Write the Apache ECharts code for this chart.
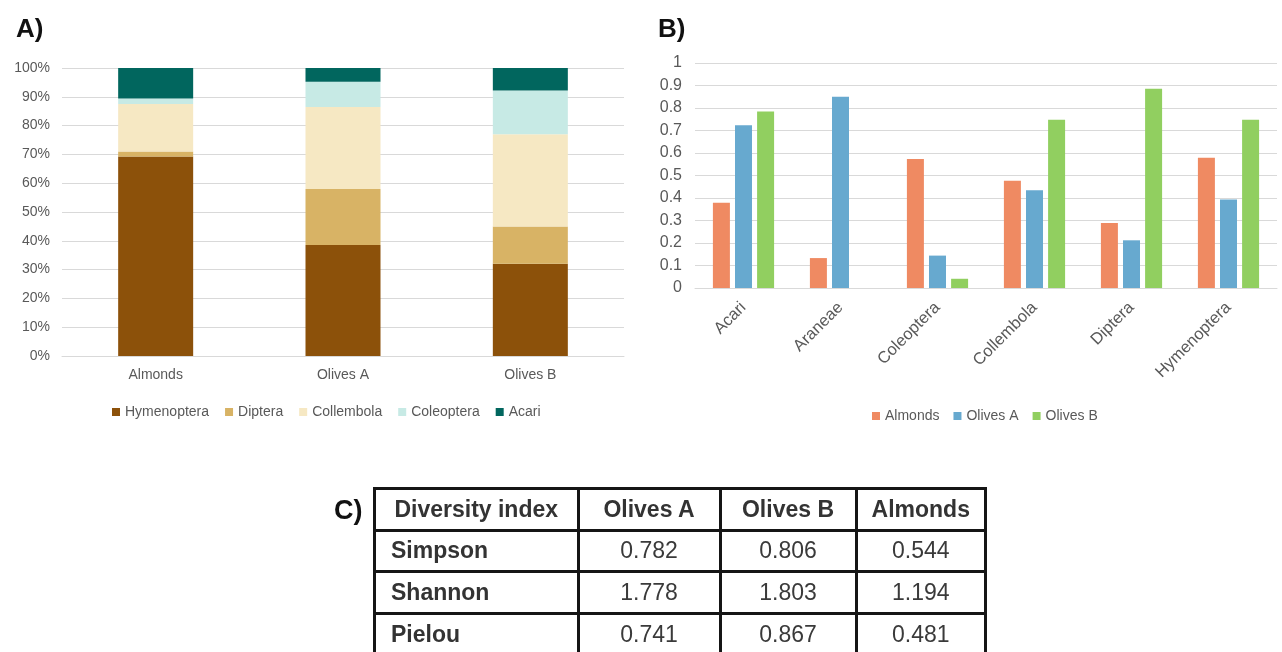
<!DOCTYPE html>
<html>
<head>
<meta charset="utf-8">
<script src="https://cdn.jsdelivr.net/npm/echarts@6/dist/echarts.min.js"></script>
<style>
  html, body { margin: 0; padding: 0; background: #fff; }
  #wrap { position: relative; width: 1282px; height: 652px; overflow: hidden; }
  #chart { position: absolute; left: 0; top: 0; width: 1282px; height: 652px; }
  .cell { position: absolute; box-sizing: border-box; border: 3px solid #151515; display: flex; align-items: center; font-family: 'Liberation Sans', Arial, sans-serif; font-size: 23px; color: #3a3a3a; }
  .hdr { font-weight: bold; justify-content: center; color: #333; }
  .rowname { font-weight: bold; padding-left: 15px; color: #333; }
  .num { justify-content: center; }
  #clabel { position: absolute; left: 334px; top: 495px; font-family: 'Liberation Sans', Arial, sans-serif; font-weight: bold; font-size: 27px; color: #111; }
</style>
</head>
<body>
<div id="wrap">
  <div id="chart"></div>
  <div id="clabel">C)</div>
</div>
<script>
// ---- Panel A: relative composition (%) ----
const sitesA = ['Almonds', 'Olives A', 'Olives B'];
const hymenopteraA = [69.3, 38.5, 32.0];
const dipteraA     = [1.7, 19.5, 13.0];
const collembolaA  = [16.5, 28.5, 32.0];
const coleopteraA  = [1.9, 8.7, 15.2];
const acariA       = [10.6, 4.8, 7.8];

// ---- Panel B: per-taxon values ----
const taxaB = ['Acari', 'Araneae', 'Coleoptera', 'Collembola', 'Diptera', 'Hymenoptera'];
const almondsB = [0.379, 0.133, 0.573, 0.477, 0.289, 0.579];
const olivesAB = [0.723, 0.850, 0.144, 0.434, 0.212, 0.393];
const olivesBB = [0.784, 0, 0.041, 0.748, 0.886, 0.748];

// ---- Panel C: diversity table ----
const tableHeader = ['Diversity index', 'Olives A', 'Olives B', 'Almonds'];
const indexNames = ['Simpson', 'Shannon', 'Pielou'];
const olivesAIdx = ['0.782', '1.778', '0.741'];
const olivesBIdx = ['0.806', '1.803', '0.867'];
const almondsIdx = ['0.544', '1.194', '0.481'];

// build table
(function () {
  const wrap = document.getElementById('wrap');
  const xs = [374.5, 578, 720, 856, 985.5];
  const ys = [488.5, 530, 571.5, 613, 655];
  const rows = [tableHeader].concat(indexNames.map((n, i) => [n, olivesAIdx[i], olivesBIdx[i], almondsIdx[i]]));
  rows.forEach((r, ri) => {
    r.forEach((txt, ci) => {
      const d = document.createElement('div');
      d.className = 'cell ' + (ri === 0 ? 'hdr' : (ci === 0 ? 'rowname' : 'num'));
      d.style.left = (xs[ci] - 1.5) + 'px';
      d.style.top = (ys[ri] - 1.5) + 'px';
      d.style.width = (xs[ci + 1] - xs[ci] + 3) + 'px';
      d.style.height = (ys[ri + 1] - ys[ri] + 3) + 'px';
      d.textContent = txt;
      wrap.appendChild(d);
    });
  });
})();

const FONT = "'Liberation Sans', Arial, sans-serif";
const TXT = '#595959';
const GRID = '#d9d9d9';

const chart = echarts.init(document.getElementById('chart'), null, { renderer: 'canvas' });
const colorsA = ['#8c510a', '#d8b365', '#f6e8c3', '#c7eae5', '#01665e'];
const colorsB = ['#ef8a62', '#67a9cf', '#91cf60'];

function stackSeries(name, data, color) {
  return { name, type: 'bar', stack: 'A', xAxisIndex: 0, yAxisIndex: 0, data, barWidth: 75,
    itemStyle: { color }, emphasis: { disabled: true } };
}
function barB(name, data, color) {
  return { name, type: 'bar', xAxisIndex: 1, yAxisIndex: 1, data, barWidth: 17, barGap: '30%',
    itemStyle: { color }, emphasis: { disabled: true } };
}

chart.setOption({
  animation: false,
  textStyle: { fontFamily: FONT },
  title: [
    { text: 'A)', left: 11, top: 12, textStyle: { fontSize: 26, fontWeight: 'bold', color: '#111', fontFamily: FONT } },
    { text: 'B)', left: 653, top: 12, textStyle: { fontSize: 26, fontWeight: 'bold', color: '#111', fontFamily: FONT } }
  ],
  grid: [
    { left: 62, top: 68, width: 562, height: 288 },
    { left: 695, top: 63, width: 582, height: 225 }
  ],
  legend: [
    { data: ['Hymenoptera', 'Diptera', 'Collembola', 'Coleoptera', 'Acari'], left: 107, top: 400,
      itemWidth: 8, itemHeight: 8, itemGap: 16, icon: 'rect',
      textStyle: { fontSize: 14, color: TXT, fontFamily: FONT } },
    { data: ['Almonds', 'Olives A', 'Olives B'], left: 867, top: 404,
      itemWidth: 8, itemHeight: 8, itemGap: 14, icon: 'rect',
      textStyle: { fontSize: 14, color: TXT, fontFamily: FONT } }
  ],
  xAxis: [
    { type: 'category', gridIndex: 0, data: sitesA,
      axisLine: { show: true, lineStyle: { color: GRID } }, axisTick: { show: false },
      axisLabel: { color: TXT, fontSize: 14, margin: 12 } },
    { type: 'category', gridIndex: 1, data: taxaB,
      axisLine: { show: true, lineStyle: { color: GRID } }, axisTick: { show: false },
      axisLabel: { color: TXT, fontSize: 16.5, rotate: 45, margin: 17, interval: 0 } }
  ],
  yAxis: [
    { type: 'value', gridIndex: 0, min: 0, max: 100, interval: 10,
      axisLabel: { formatter: '{value}%', color: TXT, fontSize: 14, margin: 12 },
      splitLine: { lineStyle: { color: GRID } }, axisLine: { show: false }, axisTick: { show: false } },
    { type: 'value', gridIndex: 1, min: 0, max: 1, interval: 0.1,
      axisLabel: { color: TXT, fontSize: 16, margin: 13 },
      splitLine: { lineStyle: { color: GRID } }, axisLine: { show: false }, axisTick: { show: false } }
  ],
  series: [
    stackSeries('Hymenoptera', hymenopteraA, colorsA[0]),
    stackSeries('Diptera', dipteraA, colorsA[1]),
    stackSeries('Collembola', collembolaA, colorsA[2]),
    stackSeries('Coleoptera', coleopteraA, colorsA[3]),
    stackSeries('Acari', acariA, colorsA[4]),
    barB('Almonds', almondsB, colorsB[0]),
    barB('Olives A', olivesAB, colorsB[1]),
    barB('Olives B', olivesBB, colorsB[2])
  ]
});
</script>
</body>
</html>
